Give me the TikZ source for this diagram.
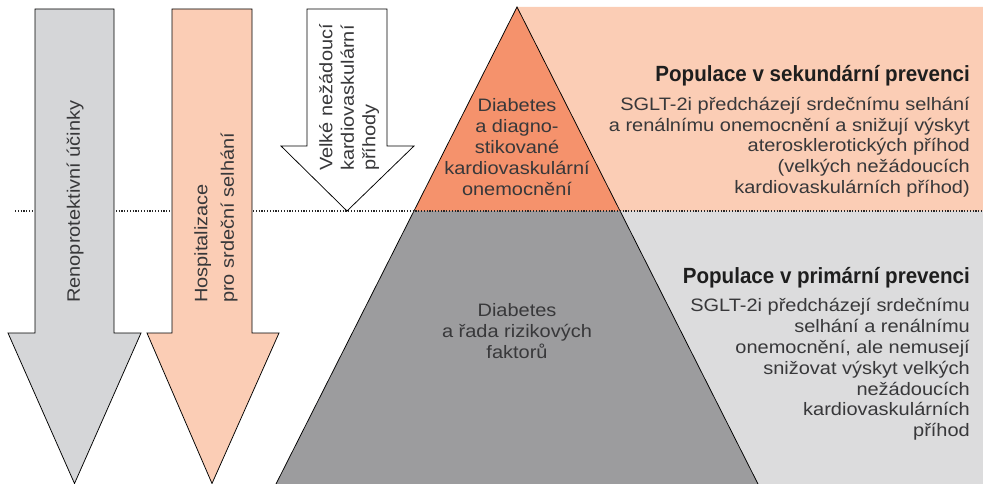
\documentclass[tikz,border=0pt]{standalone}
\usepackage{fontspec}
\setmainfont{Liberation Sans}[FakeStretch=1.11]
\newfontfamily\headfont[FakeStretch=0.935]{Liberation Sans}
\definecolor{arrgray}{HTML}{D5D6D8}
\definecolor{salmon}{HTML}{FBCDB5}
\definecolor{orng}{HTML}{F5926C}
\definecolor{midgray}{HTML}{9C9C9E}
\definecolor{ltgray}{HTML}{DCDCDD}
\definecolor{txt}{HTML}{38383A}
\definecolor{head}{HTML}{1E1E1E}
\begin{document}
\begin{tikzpicture}[x=1pt,y=-1pt,
  outl/.style={draw=black,line width=0.75pt,line join=miter},
  lbl/.style={font=\fontsize{18}{21}\selectfont,text=txt,inner sep=0pt},
  hd/.style={font=\headfont\bfseries\fontsize{22}{24}\selectfont,text=head,inner sep=0pt,anchor=base east},
  body/.style={font=\fontsize{18}{20.8}\selectfont,text=txt,inner sep=0pt,align=right,anchor=base east}]
\useasboundingbox (0,0) rectangle (983,484);
% backgrounds
\fill[salmon] (517,7) -- (983,7) -- (983,211) -- (620,211) -- cycle;
\fill[ltgray] (620,211) -- (983,211) -- (983,484) -- (758,484) -- cycle;
% pyramid
\fill[orng] (517,7) -- (620,211) -- (414,211) -- cycle;
\fill[midgray] (414,211) -- (620,211) -- (758,484) -- (276,484) -- cycle;
\coordinate (apex) at (517,7);
\coordinate (bl) at (276,484);
\coordinate (br) at (758,484);
\draw[outl] (bl) -- (apex) -- (br);
% dotted line
\coordinate (dl) at (15,211);
\coordinate (dr) at (983,211);
\draw[dash pattern=on 1.2pt off 1.6pt,line width=1.1pt,black!85] (dl) -- (dr);
% arrows
\draw[outl,fill=arrgray] (35,9) -- (114,9) -- (114,333) -- (141,333) -- (74.5,483.5) -- (8,333) -- (35,333) -- cycle;
\draw[outl,fill=salmon] (172,9) -- (252,9) -- (252,333) -- (279,333) -- (212,483.5) -- (147,333) -- (172,333) -- cycle;
\draw[outl,fill=white] (307,9) -- (387,9) -- (387,146) -- (414,146) -- (347,211) -- (281,146) -- (307,146) -- cycle;
% arrow labels
\node[lbl,rotate=90,anchor=west] (reno) at (75,303) {Renoprotektivní účinky};
\node[lbl,rotate=90,anchor=west,align=left,font=\fontsize{18}{26.5}\selectfont] (hosp) at (216,303) {Hospitalizace\\pro srdeční selhání};
\node[lbl,rotate=90,anchor=west,align=left,font=\fontsize{18}{21.5}\selectfont] (velke) at (349,171) {Velké nežádoucí\\kardiovaskulární\\příhody};
% pyramid labels (base = last line)
\node[lbl,align=center,anchor=base] (top) at (517,195) {Diabetes\\a diagno-\\stikované\\kardiovaskulární\\onemocnění};
\node[lbl,align=center,anchor=base] (bot) at (517,358) {Diabetes\\a řada rizikových\\faktorů};
% right texts
\node[hd] (h1) at (970,82) {Populace v sekundární prevenci};
\node[body] (b1) at (970,193.5) {SGLT-2i předcházejí srdečnímu selhání\\a renálnímu onemocnění a snižují výskyt\\aterosklerotických příhod\\(velkých nežádoucích\\kardiovaskulárních příhod)};
\node[hd] (h2) at (970,283) {Populace v primární prevenci};
\node[body] (b2) at (970,436.7) {SGLT-2i předcházejí srdečnímu\\selhání a renálnímu\\onemocnění, ale nemusejí\\snižovat výskyt velkých\\nežádoucích\\kardiovaskulárních\\příhod};
\end{tikzpicture}
\end{document}
